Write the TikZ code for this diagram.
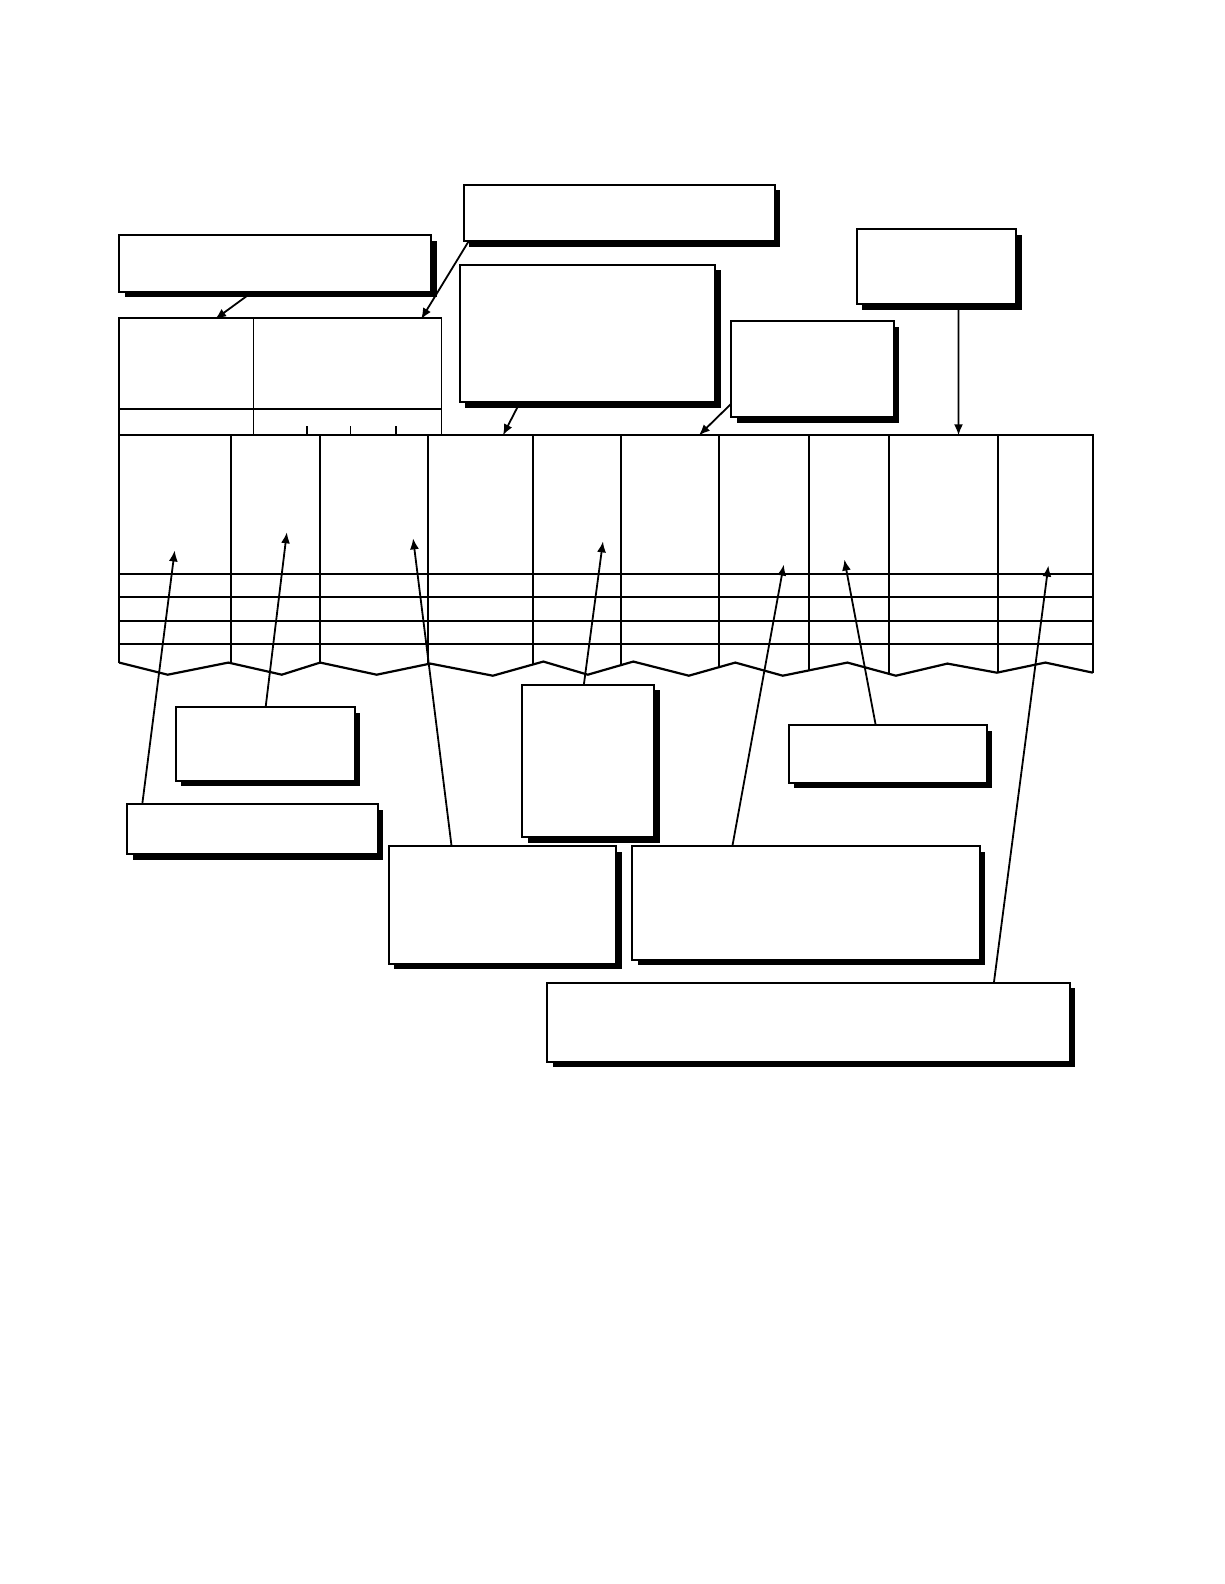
\documentclass[tikz,border=0pt]{standalone}
\usetikzlibrary{shadows,calc,arrows.meta}
\begin{document}
\begin{tikzpicture}[x=0.505pt,y=-0.505pt,
  bx/.style 2 args={draw, line width=1pt, fill=white, inner sep=0pt, outer sep=0pt,
    anchor=north west, minimum width=#1*0.505pt, minimum height=#2*0.505pt,
    drop shadow={shadow xshift=2.8pt, shadow yshift=-2.8pt, opacity=1, fill=black}},
  tbl/.style={line width=1.1pt},
  thin tbl/.style={line width=0.8pt},
  conn/.style={line width=0.9pt, -{Latex[length=5.5pt,width=4.5pt]}}]
\useasboundingbox (0,0) rectangle (1211.9,1568.3);
\fill[white] (0,0) rectangle (1211.9,1568.3);

% top-left small table
\draw[thin tbl] (118,315) rectangle (437,431);
\draw[thin tbl] (251,315) -- (251,431);
\draw[thin tbl] (118,405) -- (437,405);
\foreach \x in {304,347,392} \draw[thin tbl] (\x,422) -- (\x,431);

% main table
\begin{scope}
\clip (118,431) -- (1082,431) -- (1082,666) -- (1035,656) -- (987,666) -- (938,657) -- (887,669) -- (839,656) -- (775,669) -- (728,656) -- (682,669) -- (627,655) -- (582,668) -- (538,655) -- (488,669) -- (426,657) -- (373,668) -- (317,656) -- (279,668) -- (226,656) -- (166,668) -- (118,656) -- cycle;
\foreach \x in {229,317,424,528,615,712,801,880,988} \draw[tbl] (\x,431) -- (\x,680);
\foreach \y in {568,591,615,638} \draw[tbl] (118,\y) -- (1082,\y);
\end{scope}
\draw[tbl] (118,656) -- (118,431) -- (1082,431) -- (1082,666);
\draw[tbl] (118,656) -- (166,668) -- (226,656) -- (279,668) -- (317,656) -- (373,668) -- (426,657) -- (488,669) -- (538,655) -- (582,668) -- (627,655) -- (682,669) -- (728,656) -- (775,669) -- (839,656) -- (887,669) -- (938,657) -- (987,666) -- (1035,656) -- (1082,666);

% arrow targets
\coordinate (tA) at (213,316);
\coordinate (tB) at (417,316);
\coordinate (tC) at (498,431);
\coordinate (tE) at (692,431);
\coordinate (tD) at (949,431);
\coordinate (tG) at (173,545);
\coordinate (tF) at (284,527);
\coordinate (tJ) at (409,533);
\coordinate (tH) at (597,536);
\coordinate (tK) at (776,559);
\coordinate (tI) at (836,554);
\coordinate (tL) at (1038,560);

% boxes
\path
  (118,233) node[bx={309}{56}] (A) {}
  (459,183) node[bx={308}{56}] (B) {}
  (455,262) node[bx={253}{136}] (C) {}
  (848,227) node[bx={158}{74}] (D) {}
  (724,318) node[bx={161}{95}] (E) {}
  (174,700) node[bx={177}{73}] (F) {}
  (126,796) node[bx={248}{50}] (G) {}
  (517,678) node[bx={131}{151}] (H) {}
  (781,718) node[bx={196}{57}] (I) {}
  (385,838) node[bx={225}{116}] (J) {}
  (626,838) node[bx={344}{112}] (K) {}
  (542,973) node[bx={517}{78}] (L) {};

% connectors
\draw[conn] ($(A.south west)!0.427!(A.south east)$) -- (tA);
\draw[conn] ($(B.south west)!0.016!(B.south east)$) -- (tB);
\draw[conn] ($(C.south west)!0.237!(C.south east)$) -- (tC);
\draw[conn] ($(E.north west)!0.86!(E.south west)$) -- (tE);
\draw[conn] ($(D.south west)!0.639!(D.south east)$) -- (tD);
\draw[conn] ($(G.north west)!0.06!(G.north east)$) -- (tG);
\draw[conn] ($(F.north west)!0.503!(F.north east)$) -- (tF);
\draw[conn] ($(J.north west)!0.276!(J.north east)$) -- (tJ);
\draw[conn] ($(H.north west)!0.466!(H.north east)$) -- (tH);
\draw[conn] ($(K.north west)!0.288!(K.north east)$) -- (tK);
\draw[conn] ($(I.north west)!0.439!(I.north east)$) -- (tI);
\draw[conn] ($(L.north west)!0.855!(L.north east)$) -- (tL);
\end{tikzpicture}
\end{document}
